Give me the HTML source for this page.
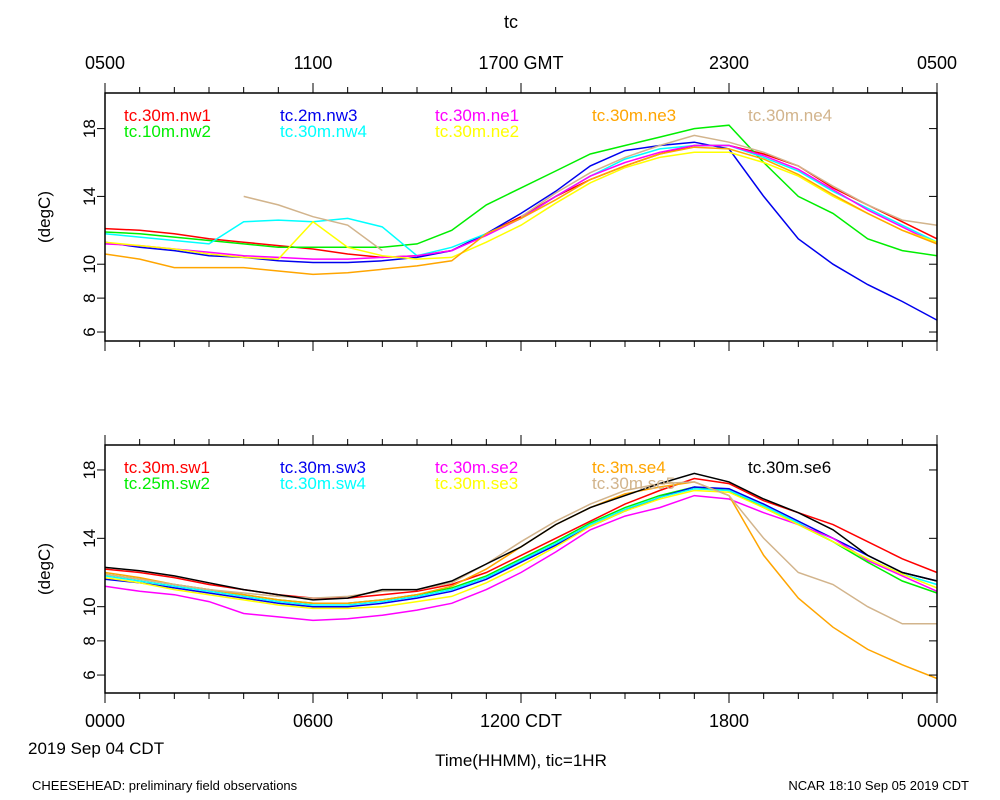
<!DOCTYPE html>
<html><head><meta charset="utf-8"><style>
body{margin:0;background:#fff;}
svg{display:block;font-family:"Liberation Sans",sans-serif;}
</style></head><body>
<svg id="c" width="1000" height="800"></svg>
<script>
const hours=[0,1,2,3,4,5,6,7,8,9,10,11,12,13,14,15,16,17,18,19,20,21,22,23,24];
const xTickLabelsTop=["0500","1100","1700 GMT","2300","0500"];
const xTickLabelsBot=["0000","0600","1200 CDT","1800","0000"];
const yTicks=[6,8,10,14,18];
const topNames=["tc.30m.nw1","tc.10m.nw2","tc.2m.nw3","tc.30m.nw4","tc.30m.ne1","tc.30m.ne2","tc.30m.ne3","tc.30m.ne4"];
const topColors=["#ff0000","#00ee00","#0000ee","#00ffff","#ff00ff","#ffff00","#ffa500","#d2b48c"];
const nw1=[12.1,12.0,11.8,11.5,11.3,11.1,10.9,10.6,10.4,10.5,10.8,11.8,12.8,14.0,15.0,15.8,16.5,17.0,17.0,16.5,15.8,14.5,13.5,12.5,11.5];
const nw2=[11.9,11.8,11.6,11.4,11.2,11.0,11.0,11.0,11.0,11.2,12.0,13.5,14.5,15.5,16.5,17.0,17.5,18.0,18.2,16.0,14.0,13.0,11.5,10.8,10.5];
const nw3=[11.3,11.0,10.8,10.5,10.4,10.2,10.1,10.1,10.2,10.4,10.8,11.8,13.0,14.3,15.8,16.7,17.0,17.2,16.8,14.0,11.5,10.0,8.8,7.8,6.7];
const nw4=[11.8,11.6,11.4,11.2,12.5,12.6,12.5,12.7,12.2,10.5,11.0,11.8,12.7,14.0,15.2,16.2,16.8,17.0,17.0,16.3,15.5,14.3,13.3,12.3,11.3];
const ne1=[11.2,11.1,10.9,10.7,10.5,10.4,10.3,10.3,10.4,10.5,10.8,11.7,12.7,14.0,15.2,16.0,16.6,17.0,17.0,16.4,15.6,14.4,13.2,12.2,11.2];
const ne2=[11.3,11.1,10.9,10.6,10.4,10.3,12.5,11.0,10.5,10.3,10.4,11.3,12.3,13.6,14.8,15.7,16.3,16.6,16.6,16.0,15.2,14.0,13.0,12.0,11.3];
const ne3=[10.6,10.3,9.8,9.8,9.8,9.6,9.4,9.5,9.7,9.9,10.2,11.8,12.7,13.8,15.0,15.8,16.5,16.9,16.8,16.2,15.3,14.1,13.0,12.0,11.2];
const ne4=[null,null,null,null,14.0,13.5,12.8,12.3,10.8,null,null,null,12.8,14.2,15.4,16.3,17.0,17.6,17.2,16.6,15.8,14.6,13.5,12.6,12.3];
const topSeries=[nw1,nw2,nw3,nw4,ne1,ne2,ne3,ne4];
const botNames=["tc.30m.sw1","tc.25m.sw2","tc.30m.sw3","tc.30m.sw4","tc.30m.se2","tc.30m.se3","tc.3m.se4","tc.30m.se5","tc.30m.se6"];
const botColors=["#ff0000","#00ee00","#0000ee","#00ffff","#ff00ff","#ffff00","#ffa500","#d2b48c","#000000"];
const sw1=[12.2,12.0,11.7,11.3,11.0,10.7,10.5,10.5,10.7,10.9,11.3,12.0,13.0,14.0,15.0,16.0,16.8,17.5,17.2,16.2,15.5,14.8,13.8,12.8,12.0];
const sw2=[11.9,11.6,11.3,11.0,10.7,10.4,10.2,10.2,10.4,10.7,11.1,11.8,12.8,13.8,14.9,15.8,16.5,17.0,16.8,15.8,14.8,13.8,12.6,11.5,10.8];
const sw3=[11.6,11.4,11.1,10.8,10.5,10.2,10.0,10.0,10.2,10.5,10.9,11.6,12.6,13.6,14.7,15.6,16.4,17.0,16.9,16.0,15.0,14.0,13.0,12.0,11.5];
const sw4=[11.8,11.5,11.2,10.9,10.6,10.3,10.1,10.1,10.3,10.6,11.0,11.7,12.7,13.7,14.8,15.7,16.4,16.9,16.8,15.9,14.9,13.8,12.8,11.9,11.3];
const se2=[11.2,10.9,10.7,10.3,9.6,9.4,9.2,9.3,9.5,9.8,10.2,11.0,12.0,13.2,14.5,15.3,15.8,16.5,16.3,15.5,14.8,14.0,12.7,11.8,10.9];
const se3=[11.7,11.4,11.0,10.7,10.4,10.1,9.9,9.9,10.0,10.3,10.6,11.4,12.4,13.5,14.7,15.6,16.3,16.8,16.7,15.8,14.8,13.8,12.8,11.9,11.1];
const se4=[12.0,11.7,11.3,11.0,10.7,10.4,10.2,10.2,10.4,10.7,11.2,12.2,13.5,14.8,15.8,16.6,17.0,17.3,16.5,13.0,10.5,8.8,7.5,6.6,5.8];
const se5=[11.9,11.6,11.3,11.0,10.8,10.6,10.5,10.6,10.9,11.0,11.4,12.5,13.8,15.0,16.0,16.8,17.2,17.3,16.5,14.0,12.0,11.3,10.0,9.0,9.0];
const se6=[12.3,12.1,11.8,11.4,11.0,10.7,10.4,10.5,11.0,11.0,11.5,12.5,13.5,14.8,15.8,16.5,17.2,17.8,17.3,16.3,15.5,14.5,13.0,12.0,11.5];
const botSeries=[sw1,sw2,sw3,sw4,se2,se3,se4,se5,se6];

const svg=document.getElementById('c');
const NS="http://www.w3.org/2000/svg";
function mk(tag,attrs,parent){const e=document.createElementNS(NS,tag);for(const k in attrs)e.setAttribute(k,attrs[k]);(parent||svg).appendChild(e);return e;}
function txt(s,x,y,size,anchor,fill,rot){const t=mk('text',{x:x,y:y,'font-size':size,'text-anchor':anchor||'middle',fill:fill||'#000'});if(rot)t.setAttribute('transform','rotate(-90 '+x+' '+y+')');t.textContent=s;return t;}
const X0=105,X1=937;
function xS(h){return X0+(X1-X0)*h/24;}
function panel(top,bot,yMin,yMax,series,colors,names,pname,slots){
  const yS=v=>bot-(v-yMin)/(yMax-yMin)*(bot-top);
  const g=mk('g',{});
  
  
  const colX=[124,280,435,592,748];
  names.forEach((n,i)=>{
    const t=txt(n,colX[slots[i][0]],top+28+slots[i][1]*16,17,'start',colors[i]);
    
    
  });
  series.forEach((s,i)=>{
    let d='',pen=false;
    s.forEach((v,j)=>{if(v===null){pen=false;return;}d+=(pen?'L':'M')+xS(hours[j]).toFixed(1)+' '+yS(v).toFixed(1);pen=true;});
    const p=mk('path',{d:d,fill:'none',stroke:colors[i],'stroke-width':1.5},g);
    
    
  });
  const r=mk('rect',{x:X0,y:top,width:X1-X0,height:bot-top,fill:'none',stroke:'#000','stroke-width':1.5},g);
  
  
  for(let h=0;h<=24;h++){
    const L=h%6===0?10:6;
    mk('line',{x1:xS(h),x2:xS(h),y1:bot,y2:bot+L,stroke:'#000'},g);
    mk('line',{x1:xS(h),x2:xS(h),y1:top,y2:top-L,stroke:'#000'},g);
  }
  yTicks.forEach(v=>{
    mk('line',{x1:X0,x2:X0-8,y1:yS(v),y2:yS(v),stroke:'#000'},g);
    mk('line',{x1:X1,x2:X1-8,y1:yS(v),y2:yS(v),stroke:'#000'},g);
    const t=txt(String(v),95,yS(v),17,'middle','#000',true);
    
    
  });
  const yt=txt('(degC)',50,(top+bot)/2,17,'middle','#000',true);
  
  
}
panel(93,341,5.47,20.1,topSeries,topColors,topNames,'top-panel',[[0,0],[0,1],[1,0],[1,1],[2,0],[2,1],[3,0],[4,0]]);
panel(445,693,4.95,19.46,botSeries,botColors,botNames,'bottom-panel',[[0,0],[0,1],[1,0],[1,1],[2,0],[2,1],[3,0],[3,1],[4,0]]);
let t=txt('tc',511,28,18);


xTickLabelsTop.forEach((s,i)=>{const e=txt(s,xS(i*6),69,18);

});
xTickLabelsBot.forEach((s,i)=>{const e=txt(s,xS(i*6),727,18);

});
t=txt('2019 Sep 04 CDT',28,754,17,'start');


t=txt('Time(HHMM), tic=1HR',521,766,17);


t=txt('CHEESEHEAD: preliminary field observations',32,790,13,'start');


t=txt('NCAR 18:10 Sep 05 2019 CDT',969,790,13,'end');


</script>
</body></html>
